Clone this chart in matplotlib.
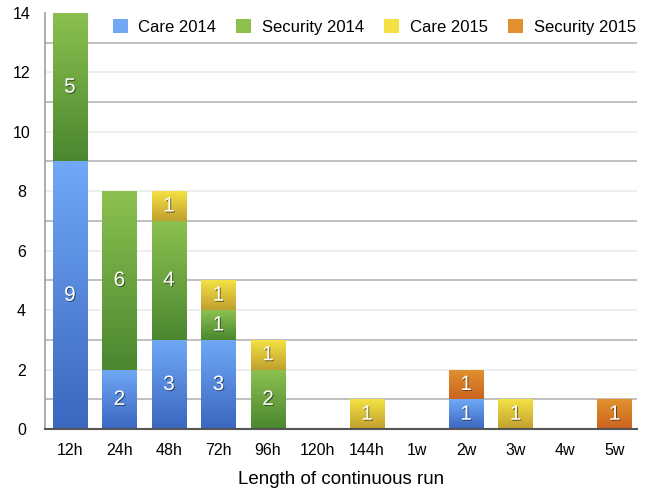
import matplotlib
matplotlib.use("Agg")
import matplotlib.pyplot as plt
import matplotlib.patheffects as pe
from matplotlib.colors import LinearSegmentedColormap
import numpy as np

plt.rcParams['font.family'] = ['Liberation Sans', 'DejaVu Sans']

categories = ["12h", "24h", "48h", "72h", "96h", "120h", "144h", "1w", "2w", "3w", "4w", "5w"]
care_2014 = [9, 2, 3, 3, 0, 0, 0, 0, 1, 0, 0, 0]
security_2014 = [5, 6, 4, 1, 2, 0, 0, 0, 0, 0, 0, 0]
care_2015 = [0, 0, 1, 1, 1, 0, 1, 0, 0, 1, 0, 0]
security_2015 = [0, 0, 0, 0, 0, 0, 0, 0, 1, 0, 0, 1]

series = [
    ("Care 2014", care_2014, ("#3b67c0", "#70a8f6")),
    ("Security 2014", security_2014, ("#4a872f", "#8cc150")),
    ("Care 2015", care_2015, ("#c1a02f", "#f3e143")),
    ("Security 2015", security_2015, ("#cb6320", "#e1922f")),
]

fig = plt.figure(figsize=(6.54, 4.91), dpi=100)
ax = fig.add_axes([0.069, 0.126, 0.905, 0.848])

x = np.arange(len(categories))
bottom = np.zeros(len(categories))
grad = np.linspace(0, 1, 64).reshape(-1, 1)
shadow = [pe.SimplePatchShadow(offset=(0.7, -0.7), shadow_rgbFace="black", alpha=0.5), pe.Normal()]

for name, vals, (c_lo, c_hi) in series:
    vals = np.array(vals, dtype=float)
    cmap = LinearSegmentedColormap.from_list(name, [c_lo, c_hi])
    bars = ax.bar(x, vals, width=0.7, bottom=bottom, color=c_hi, edgecolor="none",
                  label=name, zorder=2)
    for b, v in zip(bars, vals):
        if v <= 0:
            continue
        x0, y0 = b.get_x(), b.get_y()
        w, h = b.get_width(), b.get_height()
        im = ax.imshow(grad, cmap=cmap, aspect="auto", origin="lower",
                       extent=(x0, x0 + w, y0, y0 + h), zorder=2.5)
        im.set_clip_path(b)
        ax.text(x0 + w / 2, y0 + h / 2, "%d" % v, color="white", fontsize=15,
                ha="center", va="center", zorder=4, path_effects=shadow)
    bottom += vals

ax.set_xlim(-0.5, 11.45)
ax.set_ylim(0, 14)

# gridlines: odd values darker, even lighter
for v in range(1, 14):
    ax.axhline(v, color="#b4b4b4" if v % 2 else "#ebebeb", lw=1.2, zorder=1)

ax.set_yticks(range(0, 15, 2))
ax.set_xticks(x)
ax.set_xticklabels(categories)
ax.tick_params(axis="y", length=0, pad=17, labelsize=11.5)
for t in ax.get_yticklabels():
    t.set_horizontalalignment("center")
ax.tick_params(axis="x", length=0, pad=10, labelsize=11.5)
ax.set_xlabel("Length of continuous run", fontsize=13.5, labelpad=9)

for s in ["top", "right"]:
    ax.spines[s].set_visible(False)
ax.spines["left"].set_color("#a0a0a0")
ax.spines["left"].set_linewidth(1.2)
ax.spines["bottom"].set_color("#555555")
ax.spines["bottom"].set_linewidth(1.5)
ax.spines["bottom"].set_zorder(3)

leg = ax.legend(loc="upper right", bbox_to_anchor=(1.01, 1.0), ncol=4, frameon=False,
                fontsize=12, handlelength=0.9, handleheight=0.9, handletextpad=0.65,
                columnspacing=1.2, borderaxespad=0)

fig.savefig("out.png", dpi=100)
